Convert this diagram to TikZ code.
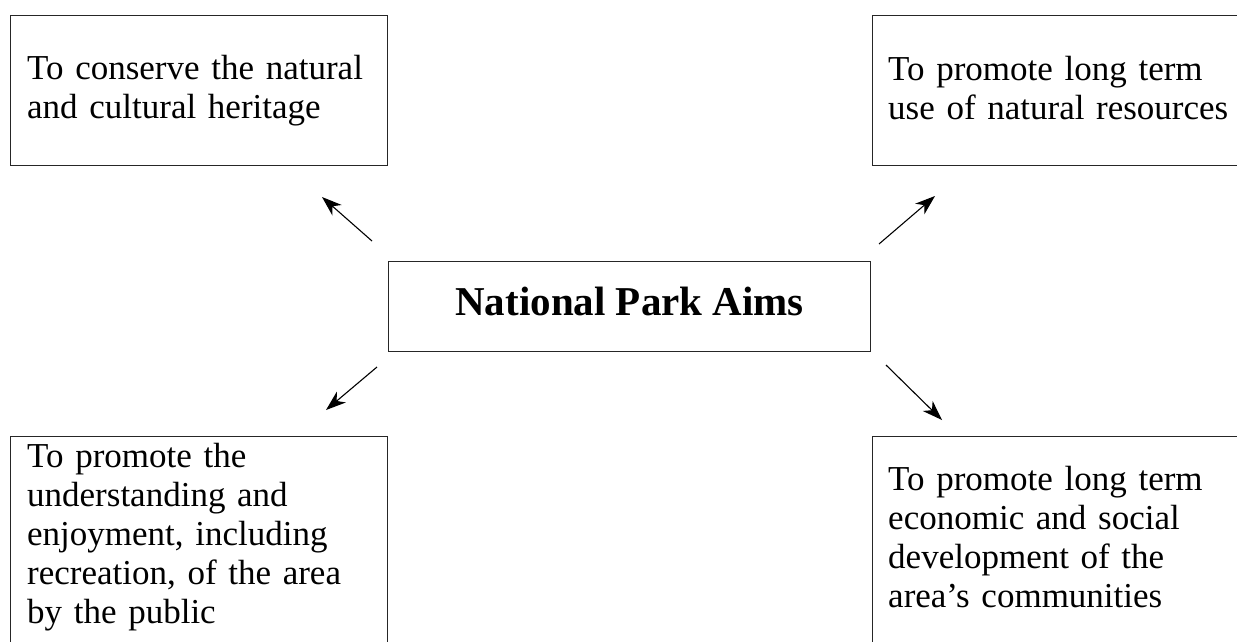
\documentclass[tikz,border=0pt]{standalone}
\usepackage{fontspec}
\setmainfont{Liberation Serif}
\usetikzlibrary{arrows.meta}
\tikzset{
  boxst/.style={draw=black!85, line width=1.2pt, rectangle, inner sep=0pt, anchor=north west},
  txt/.style={anchor=base west, inner sep=0pt, align=left, text width=360pt,
    font=\fontsize{35}{39}\selectfont},
  arr/.style={line width=1.1pt, -{Stealth[length=20pt, width=14pt, inset=6pt]}},
}
\begin{document}
\begin{tikzpicture}[x=1pt, y=-1pt]
\useasboundingbox[fill=white] (0,0) rectangle (1237,641);
% boxes
\node[boxst, minimum width=377.5pt, minimum height=150pt] (tl) at (9.5,15) {};
\node[boxst, minimum width=420pt, minimum height=150pt] (tr) at (872,15) {};
\node[boxst, minimum width=377.5pt, minimum height=260pt] (bl) at (9.5,436) {};
\node[boxst, minimum width=420pt, minimum height=260pt] (br) at (872,436) {};
\node[draw=black!85, line width=1.2pt, rectangle, anchor=north west, inner sep=0pt,
      minimum width=482pt, minimum height=90pt,
      text height=27pt, text depth=9pt,
      font=\fontsize{41}{46}\selectfont\bfseries] (c) at (388,261) {National Park Aims};
% texts
\node[txt] (tlt) at (27,79) {To conserve the natural\\and cultural heritage};
\node[txt] (trt) at (888,80) {To promote long term\\use of natural resources};
\node[txt] (blt) at (27,467) {To promote the\\understanding and\\enjoyment, including\\recreation, of the area\\by the public};
\node[txt] (brt) at (888,490) {To promote long term\\economic and social\\development of the\\area’s communities};
% arrow ends
\coordinate (a1s) at (372,241); \coordinate (a1e) at (322,197);
\coordinate (a2s) at (879,244); \coordinate (a2e) at (935,196);
\coordinate (a3s) at (377,367); \coordinate (a3e) at (326,410);
\coordinate (a4s) at (886,365); \coordinate (a4e) at (942,420);
\draw[arr] (a1s) -- (a1e);
\draw[arr] (a2s) -- (a2e);
\draw[arr] (a3s) -- (a3e);
\draw[arr] (a4s) -- (a4e);
\end{tikzpicture}
\end{document}
